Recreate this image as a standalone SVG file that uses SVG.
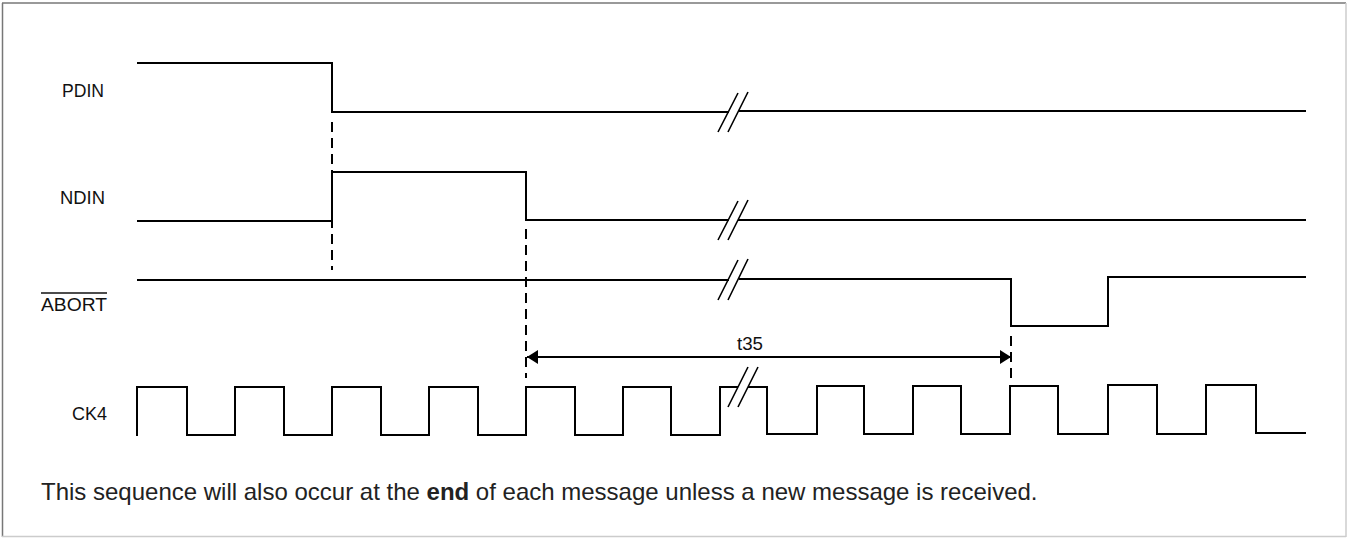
<svg xmlns="http://www.w3.org/2000/svg" width="1347" height="538" viewBox="0 0 1347 538">
<style>
.sig{fill:none;stroke:#000;stroke-width:2;stroke-linejoin:miter;stroke-linecap:butt}
.brk{fill:none;stroke:#000;stroke-width:1.6}
.dash{fill:none;stroke:#000;stroke-width:2;stroke-dasharray:10 6}
.lbl{font-family:"Liberation Sans",Arial,sans-serif;font-size:17.5px;fill:#111}
.note{font-family:"Liberation Sans",Arial,sans-serif;font-size:24px;fill:#222}
</style>
<defs>
<marker id="ah" viewBox="0 0 11 14" refX="11" refY="7" markerWidth="11" markerHeight="14" markerUnits="userSpaceOnUse" orient="auto-start-reverse">
<path d="M0,0 L11,7 L0,14 Z" fill="#000"/>
</marker>
</defs>
<rect x="0" y="0" width="1347" height="538" fill="#fff"/>
<g id="frame">
<line x1="2" y1="3" x2="1346" y2="3" stroke="#777" stroke-width="1.5"/>
<line x1="2.5" y1="3" x2="2.5" y2="537" stroke="#777" stroke-width="1.5"/>
<line x1="1346" y1="3" x2="1346" y2="537" stroke="#ccc" stroke-width="1.5"/>
<line x1="2" y1="536.5" x2="1346" y2="536.5" stroke="#ccc" stroke-width="1.5"/>
</g>
<g id="PDIN">
<text class="lbl" x="62" y="97" textLength="42" lengthAdjust="spacingAndGlyphs">PDIN</text>
<path class="sig" d="M137,63 H332 V112 H729 M739,111 H1306"/>
<path class="brk" d="M718,132 L738,93 M728,132 L748,92"/>
</g>
<g id="NDIN">
<text class="lbl" x="60" y="204" textLength="45" lengthAdjust="spacingAndGlyphs">NDIN</text>
<path class="sig" d="M137,221 H332 V172 H526 V220 H729 M738,220 H1306"/>
<path class="brk" d="M718,240 L738,201 M728,240 L748,200"/>
</g>
<g id="ABORT">
<text class="lbl" x="41" y="311" textLength="66" lengthAdjust="spacingAndGlyphs">ABORT</text>
<line x1="41" y1="293" x2="107" y2="293" stroke="#111" stroke-width="1.5"/>
<path class="sig" d="M137,280 H729 M739,279 H1011 V326 H1108 V277 H1306"/>
<path class="brk" d="M718,300 L738,260 M728,300 L748,259"/>
</g>
<g id="CK4">
<text class="lbl" x="72" y="420" textLength="35" lengthAdjust="spacingAndGlyphs">CK4</text>
<path class="sig" d="M137,436 V387 H187 V435 H235 V387 H284 V435 H332 V387 H381 V435 H429 V387 H478 V435 H526 V387 H575 V435 H623 V387 H671 V435 H720 V387 H738 M748,387 H767 V434 H817 V386 H864 V434 H913 V386 H961 V434 H1010 V386 H1058 V434 H1108 V385 H1157 V434 H1206 V385 H1256 V433 H1306"/>
<path class="brk" d="M728,407 L748,367 M738,407 L758,367"/>
</g>
<g id="connectors">
<line class="dash" x1="332" y1="122" x2="332" y2="270"/>
<line class="dash" x1="526" y1="229" x2="526" y2="378"/>
<line class="dash" x1="1011" y1="336" x2="1011" y2="378"/>
<line x1="527" y1="357" x2="1011" y2="357" stroke="#000" stroke-width="1.8" marker-start="url(#ah)" marker-end="url(#ah)"/>
<text class="lbl" x="737" y="350" textLength="26" lengthAdjust="spacingAndGlyphs">t35</text>
</g>
<g id="note">
<text class="note" x="41" y="500">This sequence will also occur at the <tspan font-weight="bold">end</tspan> of each message unless a new message is received.</text>
</g>
</svg>
